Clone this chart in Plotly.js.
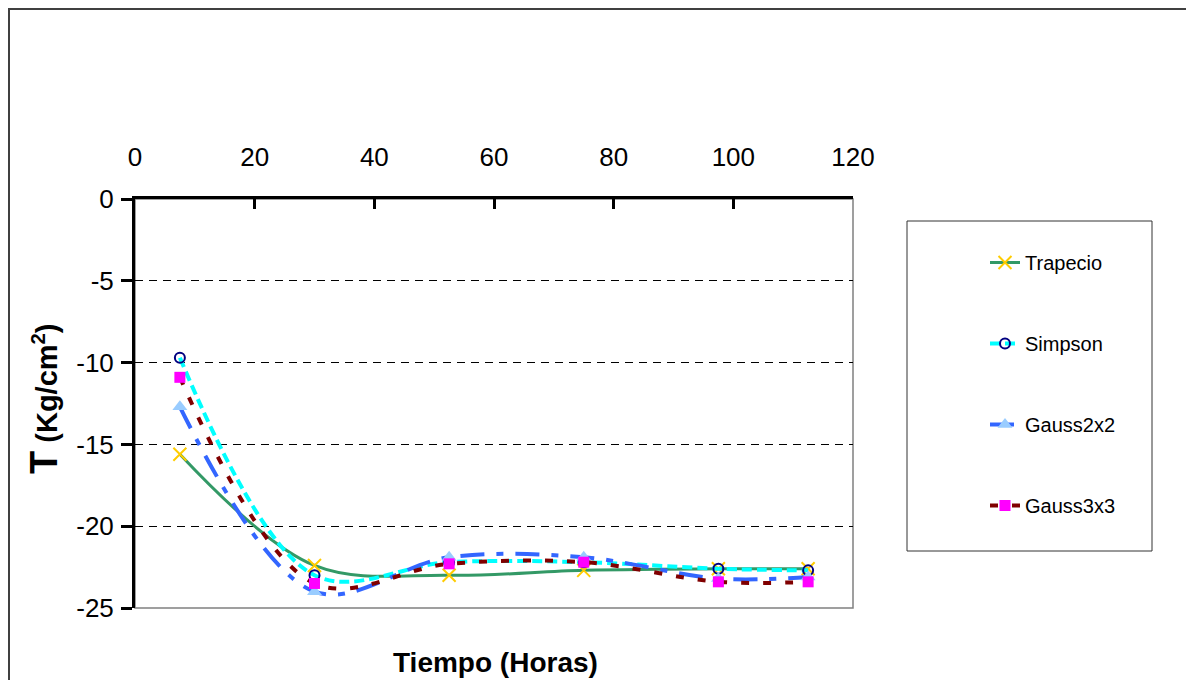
<!DOCTYPE html>
<html>
<head>
<meta charset="utf-8">
<script src="https://cdn.plot.ly/plotly-3.0.1.min.js"></script>
<style>
  html, body { margin: 0; padding: 0; background: #ffffff; }
  #chart { width: 1186px; height: 680px; }
</style>
</head>
<body>
<div id="chart"></div>
<script>
// Data
const tiempo = [7.5, 30, 52.5, 75, 97.5, 112.5];
const trapecio = [-15.6, -22.4, -23.0, -22.7, -22.6, -22.6];
const simpson = [-9.7, -23.0, -22.2, -22.2, -22.6, -22.7];
const gauss2x2 = [-12.7, -24.0, -21.9, -21.9, -23.2, -23.1];
const gauss3x3 = [-10.9, -23.5, -22.3, -22.2, -23.4, -23.4];
const seriesNames = ["Trapecio", "Simpson", "Gauss2x2", "Gauss3x3"];
const xTickVals = [0, 20, 40, 60, 80, 100, 120];
const yTickVals = [0, -5, -10, -15, -20, -25];
const yTickText = ["0", "-5", "-10", "-15", "-20", "-25"];

const FONT = "Liberation Sans, Arial, Helvetica, sans-serif";

// Plot area in pixels
const L = 135, R = 853, T = 199, B = 608, W = 1186, H = 680;
const px = v => (v - L) / (R - L);
const py = v => (B - v) / (B - T);

const traces = [
  {
    x: tiempo, y: trapecio, name: seriesNames[0], legendgroup: "a",
    mode: "lines+markers", type: "scatter",
    line: { color: "#339966", width: 3, shape: "spline", smoothing: 1 },
    marker: { symbol: "x-thin", size: 13, color: "#FFCC00", line: { color: "#FFCC00", width: 2 } }
  },
  {
    x: tiempo, y: simpson, name: seriesNames[1], legendgroup: "b",
    mode: "lines+markers", type: "scatter",
    line: { color: "#00FFFF", width: 4, shape: "spline", smoothing: 1, dash: "10px,5px" },
    marker: { symbol: "circle-open", size: 10, color: "#000080", line: { color: "#000080", width: 2 } }
  },
  {
    x: tiempo, y: gauss2x2, name: seriesNames[2], legendgroup: "c",
    mode: "lines+markers", type: "scatter",
    line: { color: "#3366FF", width: 4, shape: "spline", smoothing: 1, dash: "24px,12px,7px,12px" },
    marker: { symbol: "triangle-up", size: 13, color: "#99CCFF" }
  },
  {
    x: tiempo, y: gauss3x3, name: seriesNames[3], legendgroup: "d",
    mode: "lines+markers", type: "scatter",
    line: { color: "#800000", width: 4, shape: "spline", smoothing: 1, dash: "8px,14px" },
    marker: { symbol: "square", size: 11, color: "#FF00FF" }
  }
];

const layout = {
  width: W, height: H,
  paper_bgcolor: "#ffffff", plot_bgcolor: "#ffffff",
  margin: { l: L, r: W - R, t: T, b: H - B, pad: 0 },
  font: { family: FONT, color: "#000000", size: 20 },
  showlegend: true,
  legend: {
    x: px(985), y: py(243), xanchor: "left", yanchor: "top",
    bgcolor: "rgba(0,0,0,0)", borderwidth: 0,
    font: { family: FONT, size: 20, color: "#000000" },
    traceorder: "grouped", tracegroupgap: 52
  },
  xaxis: {
    side: "top", range: [0, 120], tickvals: xTickVals,
    ticks: "inside", ticklen: 10, tickwidth: 3, tickcolor: "#000000",
    showline: true, linewidth: 3, linecolor: "#000000",
    showgrid: false, zeroline: false,
    tickfont: { family: FONT, size: 26, color: "#000000" },
    ticklabelstandoff: 20
  },
  yaxis: {
    range: [-25, 0], tickvals: yTickVals, ticktext: yTickText,
    ticks: "outside", ticklen: 11, tickwidth: 3, tickcolor: "#000000",
    showline: true, linewidth: 3, linecolor: "#000000",
    showgrid: true, gridcolor: "#000000", gridwidth: 1, griddash: "8px,6px",
    zeroline: false,
    tickfont: { family: FONT, size: 26, color: "#000000" },
    ticklabelstandoff: 2
  },
  shapes: [
    // outer chart border
    { type: "rect", xref: "paper", yref: "paper", layer: "below",
      x0: px(9), x1: px(1192), y0: py(690), y1: py(9),
      line: { color: "#404040", width: 2 }, fillcolor: "rgba(0,0,0,0)" },
    // plot area border
    { type: "rect", xref: "paper", yref: "paper", layer: "below",
      x0: 0, x1: 1, y0: 0, y1: 1,
      line: { color: "#808080", width: 1.5 }, fillcolor: "rgba(0,0,0,0)" },
    // legend box
    { type: "rect", xref: "paper", yref: "paper", layer: "below",
      x0: px(907), x1: px(1152), y0: py(551), y1: py(221),
      line: { color: "#333333", width: 1 }, fillcolor: "rgba(0,0,0,0)" }
  ],
  annotations: [
    { text: "<b>Tiempo (Horas)</b>", xref: "paper", yref: "paper",
      x: px(495), y: py(662), xanchor: "center", yanchor: "middle",
      showarrow: false, font: { family: FONT, size: 28, color: "#000000" } },
    { text: "<b><span style=\"font-size:38px\">T</span> (Kg/cm<sup>2</sup>)</b>", xref: "paper", yref: "paper",
      x: px(44), y: py(399), xanchor: "center", yanchor: "middle", textangle: -90,
      showarrow: false, font: { family: FONT, size: 29, color: "#000000" } }
  ]
};

Plotly.newPlot("chart", traces, layout, { displayModeBar: false, staticPlot: true });
</script>
</body>
</html>
